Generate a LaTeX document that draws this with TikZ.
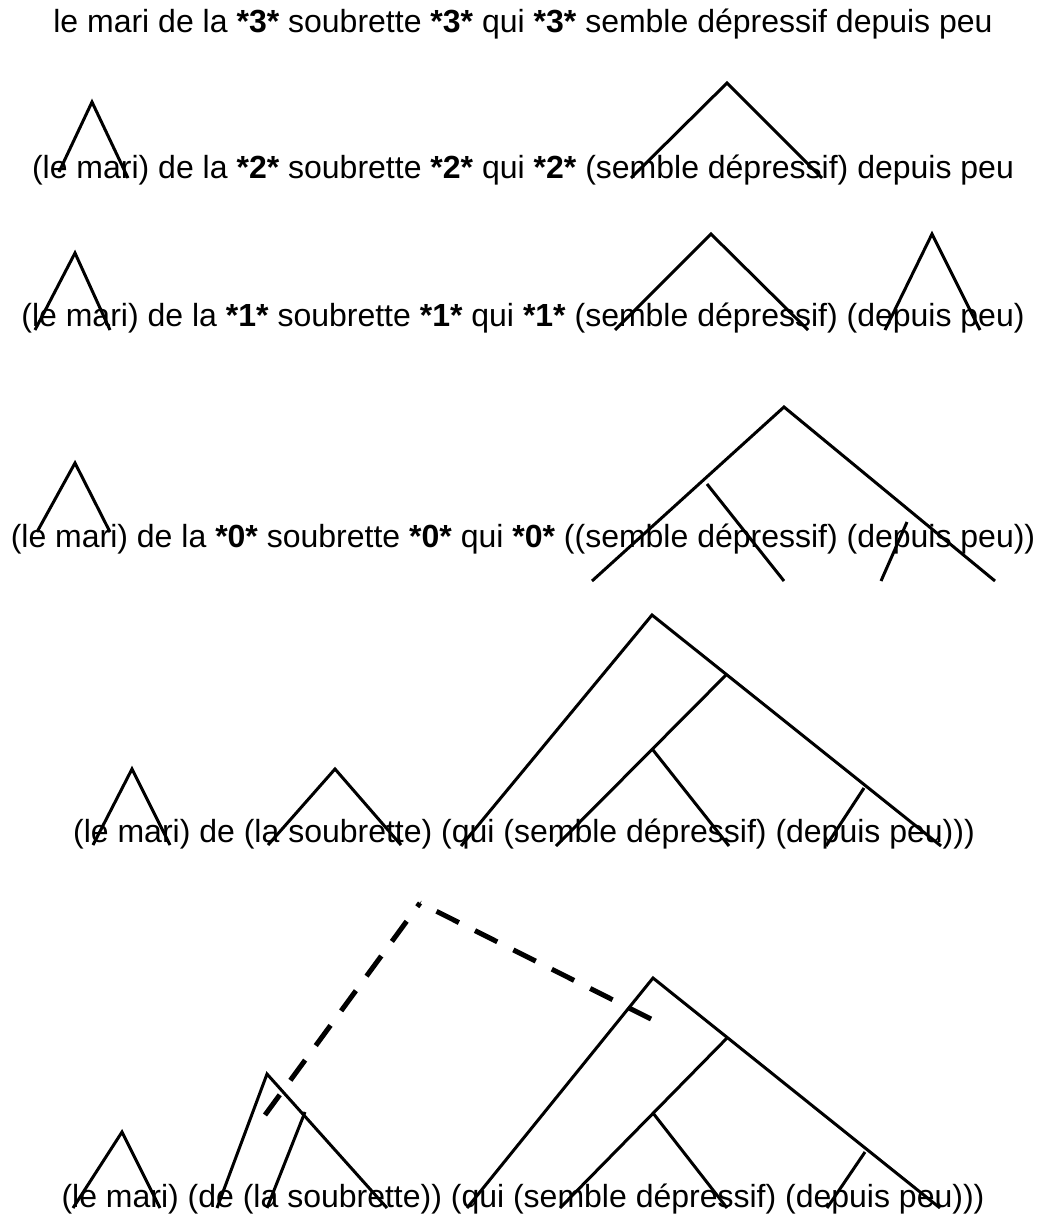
\documentclass[tikz,border=0pt]{standalone}
\usepackage{fontspec}
\setmainfont{Liberation Sans}
\begin{document}
\begin{tikzpicture}[x=1pt,y=-1pt,
  txt/.style={anchor=base,inner sep=0pt,font=\fontsize{32}{38}\selectfont},
  edge/.style={line width=3pt,line join=miter},
  dashedge/.style={line width=5pt,dash pattern=on 25pt off 18pt}]
\useasboundingbox[fill=white] (0,0) rectangle (1040,1218);
% texts
\node[txt] (l1) at (523,32) {le mari de la \textbf{*3*} soubrette \textbf{*3*} qui \textbf{*3*} semble dépressif depuis peu};
\node[txt] (l2) at (523,178) {(le mari) de la \textbf{*2*} soubrette \textbf{*2*} qui \textbf{*2*} (semble dépressif) depuis peu};
\node[txt] (l3) at (523,326) {(le mari) de la \textbf{*1*} soubrette \textbf{*1*} qui \textbf{*1*} (semble dépressif) (depuis peu)};
\node[txt] (l4) at (523,547) {(le mari) de la \textbf{*0*} soubrette \textbf{*0*} qui \textbf{*0*} ((semble dépressif) (depuis peu))};
\node[txt] (l5) at (524,842) {(le mari) de (la soubrette) (qui (semble dépressif) (depuis peu)))};
\node[txt] (l6) at (523,1207) {(le mari) (de (la soubrette)) (qui (semble dépressif) (depuis peu)))};
% line 2
\coordinate (b1) at (92,102); \coordinate (b1l) at (59,172); \coordinate (b1r) at (128,178);
\coordinate (b2) at (727,83); \coordinate (b2l) at (631,178); \coordinate (b2r) at (822,178);
\draw[edge] (b1l) -- (b1) -- (b1r);
\draw[edge] (b2l) -- (b2) -- (b2r);
% line 3
\coordinate (c1) at (75,253); \coordinate (c1l) at (35,330); \coordinate (c1r) at (110,330);
\coordinate (c2) at (711,234); \coordinate (c2l) at (615,330); \coordinate (c2r) at (808,330);
\coordinate (c3) at (932,234); \coordinate (c3l) at (885,330); \coordinate (c3r) at (980,330);
\draw[edge] (c1l) -- (c1) -- (c1r);
\draw[edge] (c2l) -- (c2) -- (c2r);
\draw[edge] (c3l) -- (c3) -- (c3r);
% line 4
\coordinate (d1) at (75,463); \coordinate (d1l) at (37,532); \coordinate (d1r) at (110,532);
\coordinate (d2) at (784,407); \coordinate (d2l) at (592,581); \coordinate (d2r) at (995,581);
\coordinate (d3) at (707,484); \coordinate (d3r) at (784,581);
\coordinate (d4) at (907,522); \coordinate (d4l) at (881,581);
\draw[edge] (d1l) -- (d1) -- (d1r);
\draw[edge] (d2l) -- (d2) -- (d2r);
\draw[edge] (d3) -- (d3r);
\draw[edge] (d4) -- (d4l);
% line 5
\coordinate (e1) at (132,769); \coordinate (e1l) at (93,845); \coordinate (e1r) at (170,845);
\coordinate (e2) at (335,769); \coordinate (e2l) at (268,845); \coordinate (e2r) at (401,845);
\coordinate (e3) at (652,615); \coordinate (e3l) at (461,846); \coordinate (e3r) at (941,846);
\coordinate (e4) at (727,674); \coordinate (e4l) at (556,846);
\coordinate (e5) at (653,750); \coordinate (e5r) at (729,846);
\coordinate (e6) at (864,788); \coordinate (e6l) at (826,846);
\draw[edge] (e1l) -- (e1) -- (e1r);
\draw[edge] (e2l) -- (e2) -- (e2r);
\draw[edge] (e3l) -- (e3) -- (e3r);
\draw[edge] (e4) -- (e4l);
\draw[edge] (e5) -- (e5r);
\draw[edge] (e6) -- (e6l);
% line 6
\coordinate (f1) at (122,1132); \coordinate (f1l) at (73,1208); \coordinate (f1r) at (160,1208);
\coordinate (f2) at (267,1074); \coordinate (f2l) at (217,1208); \coordinate (f2r) at (387,1208);
\coordinate (f3) at (305,1112); \coordinate (f3l) at (267,1208);
\coordinate (f4) at (653,978); \coordinate (f4l) at (467,1208); \coordinate (f4r) at (940,1208);
\coordinate (f5) at (728,1037); \coordinate (f5l) at (560,1208);
\coordinate (f6) at (653,1113); \coordinate (f6r) at (727,1208);
\coordinate (f7) at (865,1152); \coordinate (f7l) at (827,1208);
\draw[edge] (f1l) -- (f1) -- (f1r);
\draw[edge] (f2l) -- (f2) -- (f2r);
\draw[edge] (f3) -- (f3l);
\draw[edge] (f4l) -- (f4) -- (f4r);
\draw[edge] (f5) -- (f5l);
\draw[edge] (f6) -- (f6r);
\draw[edge] (f7) -- (f7l);
% dashed
\coordinate (g0) at (265,1115); \coordinate (g1) at (420,903); \coordinate (g2) at (651,1019);
\draw[dashedge] (g0) -- (g1);
\draw[dashedge] (g2) -- (g1);
\end{tikzpicture}
\end{document}
